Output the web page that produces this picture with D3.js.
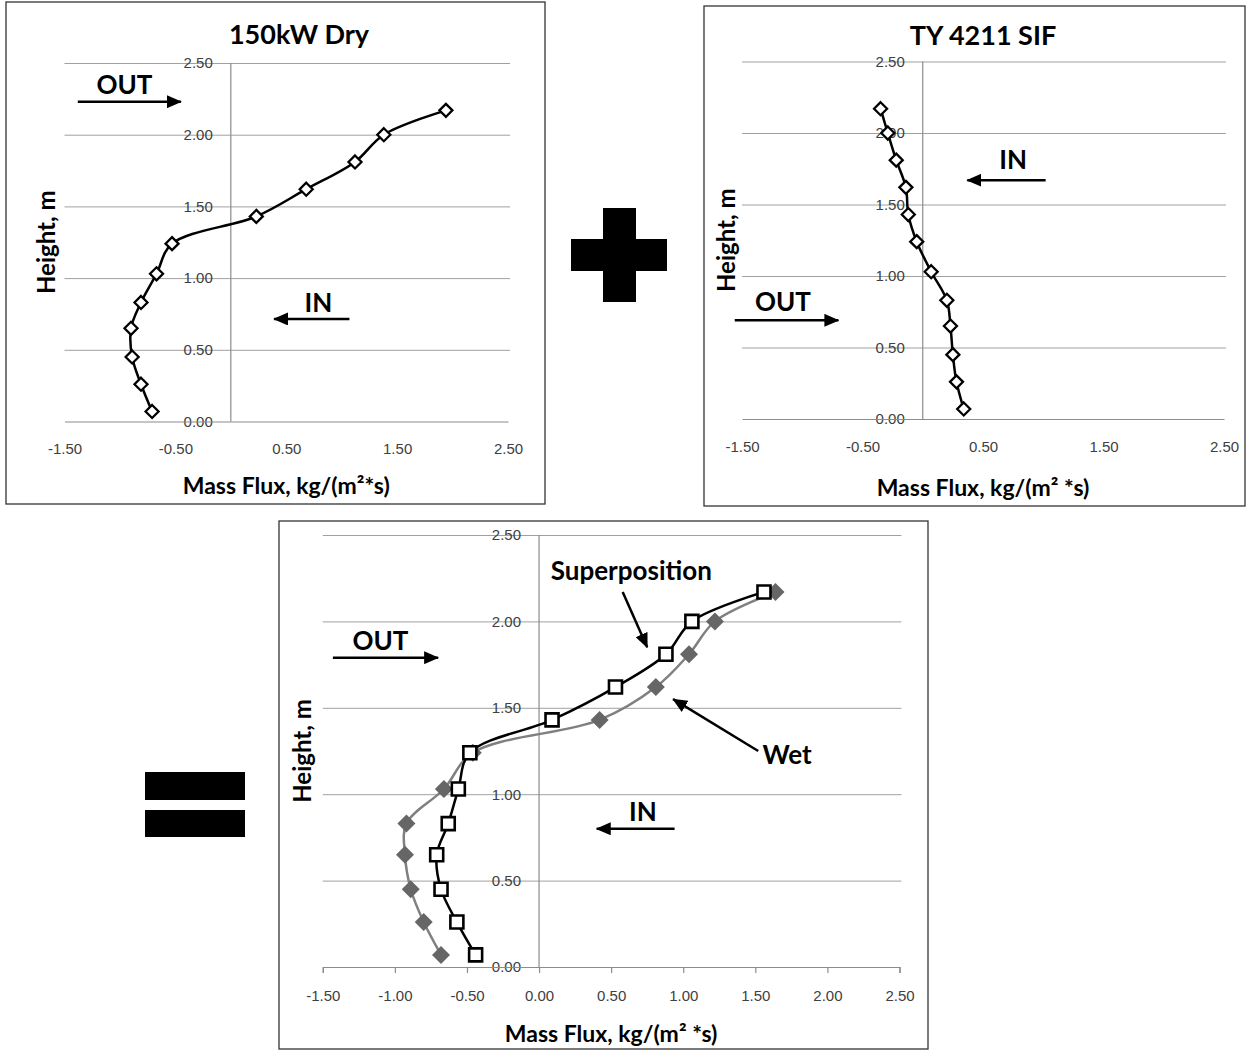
<!DOCTYPE html>
<html lang="en">
<head>
<meta charset="UTF-8">
<title>Mass flux profiles - D3.JS</title>
<style>
    body { margin: 0; background: #fff; }
    svg { display: block; font-family: Lato, 'Open Sans', sans-serif; }
    .grid line { stroke: #a0a0a0; stroke-width: 1; }
    .grid path { display: none; }
    .ylab path, .ylab line { display: none; }
    .tick text { fill: #404040; font-size: 15px; }
    .xax path, .xax line { stroke: #8c8c8c; stroke-width: 1.2; }
    .bold { font-weight: 700; fill: #000; }
</style>
<script src="https://d3js.org/d3.v7.min.js"></script>
</head>
<body>
<div class="graph"></div>
<script>
    // values (height in m, flux in kg/(m2*s))
    const heights = [2.17, 2.00, 1.81, 1.62, 1.43, 1.24, 1.03, 0.83, 0.65, 0.45, 0.26, 0.07]
    const dryFlux = [1.94, 1.38, 1.12, 0.68, 0.23, -0.53, -0.67, -0.81, -0.90, -0.89, -0.81, -0.71]
    const sifFlux = [-0.35, -0.29, -0.22, -0.14, -0.12, -0.05, 0.07, 0.20, 0.23, 0.25, 0.28, 0.34]
    const superFlux = [1.56, 1.06, 0.88, 0.53, 0.09, -0.48, -0.56, -0.63, -0.71, -0.68, -0.57, -0.44]
    const wetFlux = [1.64, 1.22, 1.04, 0.81, 0.42, -0.46, -0.66, -0.92, -0.93, -0.89, -0.80, -0.68]

    const heightTicks = [0, 0.5, 1, 1.5, 2, 2.5]
    const fluxTicksShort = [-1.5, -0.5, 0.5, 1.5, 2.5]
    const fluxTicksFull = [-1.5, -1, -0.5, 0, 0.5, 1, 1.5, 2, 2.5]

    const W = 1249, H = 1051
    const svg = d3.select('.graph').append('svg')
        .attr('width', W)
        .attr('height', H)

    svg.append('defs').append('marker')
        .attr('id', 'head')
        .attr('viewBox', '0 0 15 13')
        .attr('refX', 14).attr('refY', 6.5)
        .attr('markerWidth', 15).attr('markerHeight', 13)
        .attr('markerUnits', 'userSpaceOnUse')
        .attr('orient', 'auto')
        .append('path')
        .attr('d', 'M0,0 L15,6.5 L0,13 Z')
        .attr('fill', '#000')

    const panels = [
        {
            frame: [6, 2, 539, 502], xr: [64.5, 508], yr: [421.5, 63],
            title: '150kW Dry', titleX: 299, titleY: 35,
            xTicks: fluxTicksShort, tickLen: 0, tickPad: 22,
            xLabel: 'Mass Flux, kg/(m²*s)', xLabelY: 486, yLabelX: 47,
            series: [{ values: dryFlux, shape: 'diamond', r: 6.5, fill: '#fff', stroke: '#000', line: '#000' }],
            notes: [
                { text: 'OUT', at: [-0.96, 2.35], from: [-1.38, 2.23], to: [-0.45, 2.23] },
                { text: 'IN', at: [0.79, 0.83], from: [1.07, 0.715], to: [0.39, 0.715] }
            ]
        },
        {
            frame: [704, 6, 541, 500], xr: [742, 1224], yr: [419, 61.5],
            title: 'TY 4211 SIF', titleX: 983, titleY: 36,
            xTicks: fluxTicksShort, tickLen: 0, tickPad: 22,
            xLabel: 'Mass Flux, kg/(m² *s)', xLabelY: 488, yLabelX: 727,
            series: [{ values: sifFlux, shape: 'diamond', r: 6.5, fill: '#fff', stroke: '#000', line: '#000' }],
            notes: [
                { text: 'IN', at: [0.75, 1.81], from: [1.02, 1.67], to: [0.37, 1.67] },
                { text: 'OUT', at: [-1.16, 0.82], from: [-1.56, 0.69], to: [-0.70, 0.69] }
            ]
        },
        {
            frame: [279, 521, 649, 528], xr: [322.8, 899.5], yr: [967, 535],
            title: null,
            xTicks: fluxTicksFull, tickLen: 6, tickPad: 17,
            xLabel: 'Mass Flux, kg/(m² *s)', xLabelY: 1034, yLabelX: 303,
            series: [
                { values: wetFlux, shape: 'diamond', r: 9, fill: '#666', stroke: 'none', line: '#808080' },
                { values: superFlux, shape: 'square', r: 6.5, fill: '#fff', stroke: '#000', line: '#000' }
            ],
            notes: [
                { text: 'OUT', at: [-1.10, 1.89], from: [-1.43, 1.79], to: [-0.70, 1.79] },
                { text: 'IN', at: [0.72, 0.90], from: [0.94, 0.80], to: [0.40, 0.80] },
                { text: 'Superposition', at: [0.64, 2.29], from: [0.58, 2.17], to: [0.75, 1.85] },
                { text: 'Wet', at: [1.72, 1.23], from: [1.52, 1.25], to: [0.93, 1.55] }
            ]
        }
    ]

    const drawPanel = (p) => {
        const g = svg.append('g')
        g.append('rect')
            .attr('x', p.frame[0]).attr('y', p.frame[1])
            .attr('width', p.frame[2]).attr('height', p.frame[3])
            .attr('fill', '#fff').attr('stroke', '#333').attr('stroke-width', 1.3)

        const x = d3.scaleLinear().domain([-1.5, 2.5]).range(p.xr)
        const y = d3.scaleLinear().domain([0, 2.5]).range(p.yr)

        // horizontal gridlines
        g.append('g').attr('class', 'grid')
            .attr('transform', `translate(${p.xr[0]},0)`)
            .call(d3.axisLeft(y).tickValues(heightTicks.slice(1)).tickSize(-(p.xr[1] - p.xr[0]) - 2).tickFormat(''))

        // vertical axis through x = 0
        g.append('line')
            .attr('x1', x(0)).attr('x2', x(0))
            .attr('y1', y(0)).attr('y2', y(2.5))
            .attr('stroke', '#8c8c8c').attr('stroke-width', 1.2)

        g.append('g').attr('class', 'ylab')
            .attr('transform', `translate(${x(0)},0)`)
            .call(d3.axisLeft(y).tickValues(heightTicks).tickSize(0).tickPadding(18).tickFormat(d => d.toFixed(2)))

        g.append('g').attr('class', 'xax')
            .attr('transform', `translate(0,${y(0)})`)
            .call(d3.axisBottom(x).tickValues(p.xTicks).tickSize(p.tickLen).tickPadding(p.tickPad).tickFormat(d => d.toFixed(2)))

        if (p.title) {
            g.append('text').attr('class', 'bold')
                .attr('x', p.titleX).attr('y', p.titleY)
                .attr('dy', '0.35em').attr('text-anchor', 'middle')
                .style('font-size', '27px')
                .text(p.title)
        }
        g.append('text').attr('class', 'bold')
            .attr('x', (p.xr[0] + p.xr[1]) / 2).attr('y', p.xLabelY)
            .attr('dy', '0.35em').attr('text-anchor', 'middle')
            .style('font-size', '23px')
            .text(p.xLabel)
        g.append('text').attr('class', 'bold')
            .attr('transform', `translate(${p.yLabelX},${(p.yr[0] + p.yr[1]) / 2}) rotate(-90)`)
            .attr('dy', '0.35em').attr('text-anchor', 'middle')
            .style('font-size', '24px')
            .text('Height, m')

        const line = d3.line()
            .x(d => x(d[0]))
            .y(d => y(d[1]))
            .curve(d3.curveCatmullRom.alpha(0.5))

        p.series.forEach(s => {
            const pts = d3.zip(s.values, heights)
            g.append('path')
                .attr('d', line(pts))
                .attr('fill', 'none')
                .attr('stroke', s.line)
                .attr('stroke-width', 2.5)
            g.selectAll(null).data(pts).enter().append('path')
                .attr('transform', d => `translate(${x(d[0])},${y(d[1])})`)
                .attr('d', s.shape === 'diamond'
                    ? `M0,${-s.r}L${s.r},0L0,${s.r}L${-s.r},0Z`
                    : `M${-s.r},${-s.r}H${s.r}V${s.r}H${-s.r}Z`)
                .attr('fill', s.fill)
                .attr('stroke', s.stroke)
                .attr('stroke-width', s.shape === 'diamond' ? 2.3 : 2.6)
        })

        p.notes.forEach(n => {
            g.append('text').attr('class', 'bold')
                .attr('x', x(n.at[0])).attr('y', y(n.at[1]))
                .attr('dy', '0.35em').attr('text-anchor', 'middle')
                .style('font-size', '26px')
                .text(n.text)
            g.append('line')
                .attr('x1', x(n.from[0])).attr('y1', y(n.from[1]))
                .attr('x2', x(n.to[0])).attr('y2', y(n.to[1]))
                .attr('stroke', '#000').attr('stroke-width', 2.5)
                .attr('marker-end', 'url(#head)')
        })
    }

    panels.forEach(drawPanel)

    // "+" and "=" between the panels
    svg.append('rect').attr('x', 603).attr('y', 208).attr('width', 33).attr('height', 94).attr('fill', '#000')
    svg.append('rect').attr('x', 571).attr('y', 239).attr('width', 96).attr('height', 32).attr('fill', '#000')
    svg.append('rect').attr('x', 145).attr('y', 772).attr('width', 100).attr('height', 28).attr('fill', '#000')
    svg.append('rect').attr('x', 145).attr('y', 810).attr('width', 100).attr('height', 27).attr('fill', '#000')
</script>
</body>
</html>
